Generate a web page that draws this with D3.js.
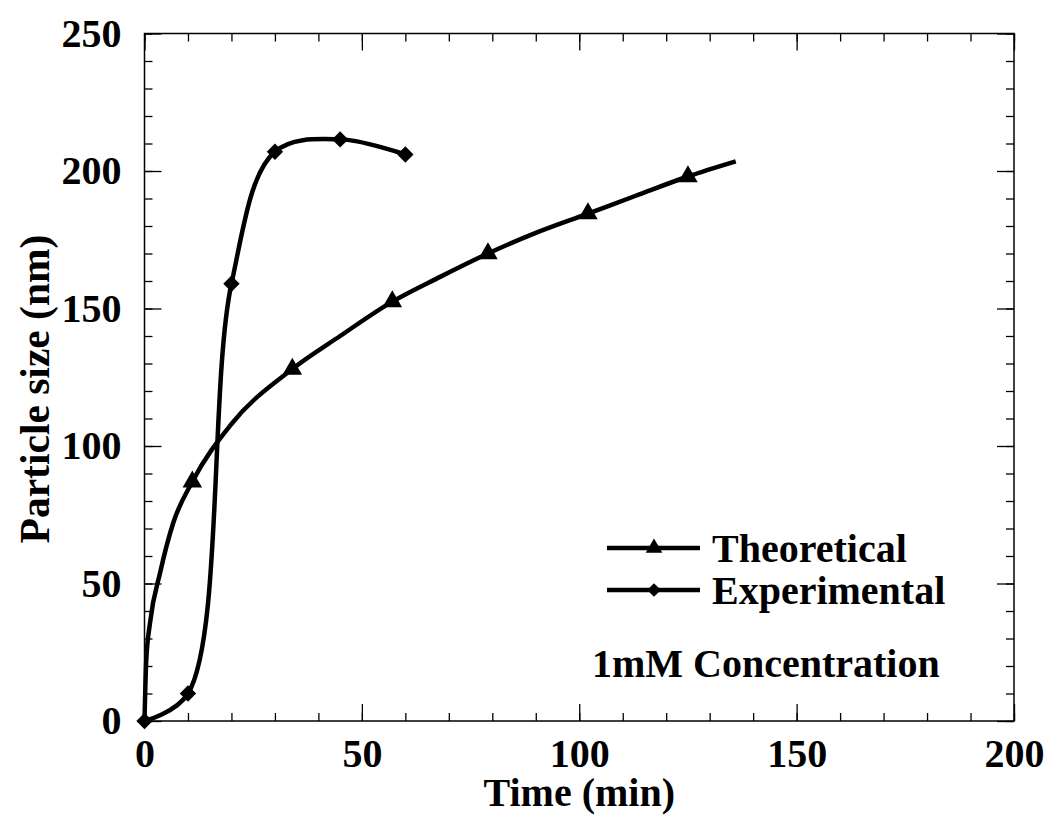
<!DOCTYPE html>
<html>
<head>
<meta charset="utf-8">
<script src="https://cdn.jsdelivr.net/npm/d3@7"></script>
<style>
  body { margin: 0; background: #fff; }
  text { font-family: "Liberation Serif", "Times New Roman", serif; font-weight: bold; }
</style>
</head>
<body>
<div id="chart"></div>
<script>
// values
var theoLine = [[0,0],[0.4,22],[1.3,36],[3.6,54],[6.6,72],[11,87],[20,108],[34,128],[45,140],[57,152.5],[68,161.5],[79,170],[90,177.5],[102,184.5],[113,191],[125,198],[136,203.5]];
var theoMarks = [[11,87],[34,128],[57,152.5],[79,170],[102,184.5],[125,198]];
var expPoints = [[0,0],[10,10],[20,159],[30,207],[45,211.5],[60,206]];
var xTicks = [0,50,100,150,200];
var yTicks = [0,50,100,150,200,250];

var svgWidth = 1048, svgHeight = 819;
var margin = { top: 33.5, right: 34, bottom: 98, left: 144.5 };
var width = svgWidth - margin.left - margin.right;
var height = svgHeight - margin.top - margin.bottom;

var svg = d3.select("#chart").append("svg")
  .attr("width", svgWidth)
  .attr("height", svgHeight);

var g = svg.append("g")
  .attr("transform", "translate(" + margin.left + "," + margin.top + ")");

var x = d3.scaleLinear().domain([0, 200]).range([0, width]);
var y = d3.scaleLinear().domain([0, 250]).range([height, 0]);

var minorX = d3.range(0, 201, 10), minorY = d3.range(0, 251, 10);

function styleAxis(sel) {
  sel.select(".domain").remove();
  sel.selectAll("line").attr("stroke", "#000").attr("stroke-width", 1.3);
  sel.selectAll("text").attr("font-size", 40).attr("fill", "#000")
    .style("font-family", '"Liberation Serif", serif').style("font-weight", "bold");
}

// minor ticks, all four sides
g.append("g").attr("transform", "translate(0," + height + ")")
  .call(d3.axisBottom(x).tickValues(minorX).tickFormat("").tickSizeInner(-8).tickSizeOuter(0)).call(styleAxis);
g.append("g")
  .call(d3.axisTop(x).tickValues(minorX).tickFormat("").tickSizeInner(-8).tickSizeOuter(0)).call(styleAxis);
g.append("g")
  .call(d3.axisLeft(y).tickValues(minorY).tickFormat("").tickSizeInner(-8).tickSizeOuter(0)).call(styleAxis);
g.append("g").attr("transform", "translate(" + width + ",0)")
  .call(d3.axisRight(y).tickValues(minorY).tickFormat("").tickSizeInner(-8).tickSizeOuter(0)).call(styleAxis);

// major ticks
g.append("g").attr("transform", "translate(0," + height + ")")
  .call(d3.axisBottom(x).tickValues(xTicks).tickFormat(d3.format("d")).tickSizeInner(-17).tickSizeOuter(0).tickPadding(18)).call(styleAxis);
g.append("g")
  .call(d3.axisTop(x).tickValues(xTicks).tickFormat("").tickSizeInner(-17).tickSizeOuter(0)).call(styleAxis);
g.append("g")
  .call(d3.axisLeft(y).tickValues(yTicks).tickFormat(d3.format("d")).tickSizeInner(-17).tickSizeOuter(0).tickPadding(23)).call(styleAxis);
g.append("g").attr("transform", "translate(" + width + ",0)")
  .call(d3.axisRight(y).tickValues(yTicks).tickFormat("").tickSizeInner(-17).tickSizeOuter(0)).call(styleAxis);

// frame
g.append("rect")
  .attr("width", width).attr("height", height)
  .attr("fill", "none").attr("stroke", "#000").attr("stroke-width", 1.5);

var line = d3.line()
  .x(function(d) { return x(d[0]); })
  .y(function(d) { return y(d[1]); });

g.append("path")
  .datum(theoLine)
  .attr("fill", "none").attr("stroke", "#000").attr("stroke-width", 4.5)
  .attr("stroke-linejoin", "round")
  .attr("d", line.curve(d3.curveMonotoneX));

g.append("path")
  .datum(expPoints)
  .attr("fill", "none").attr("stroke", "#000").attr("stroke-width", 4.5)
  .attr("stroke-linejoin", "round")
  .attr("d", line.curve(d3.curveCatmullRom.alpha(0.5)));

var tri = d3.symbol().type(d3.symbolTriangle).size(165);
var dia = d3.symbol().type(d3.symbolDiamond2).size(170);

g.selectAll(".tri").data(theoMarks).enter().append("path")
  .attr("class", "tri")
  .attr("transform", function(d) { return "translate(" + x(d[0]) + "," + y(d[1]) + ")"; })
  .attr("d", tri).attr("fill", "#000");

g.selectAll(".dia").data(expPoints).enter().append("path")
  .attr("class", "dia")
  .attr("transform", function(d) { return "translate(" + x(d[0]) + "," + y(d[1]) + ")"; })
  .attr("d", dia).attr("fill", "#000");

// axis titles
svg.append("text")
  .attr("x", margin.left + width / 2).attr("y", 806)
  .attr("text-anchor", "middle").attr("font-size", 40)
  .text("Time (min)");

svg.append("text")
  .attr("transform", "translate(49,389) rotate(-90)")
  .attr("text-anchor", "middle").attr("font-size", 41.5)
  .text("Particle size (nm)");

// legend
var legend = [
  { name: "Theoretical", sym: tri, y: 548 },
  { name: "Experimental", sym: dia, y: 590 }
];
var lg = svg.append("g");
legend.forEach(function(l) {
  lg.append("line").attr("x1", 607).attr("x2", 700).attr("y1", l.y).attr("y2", l.y)
    .attr("stroke", "#000").attr("stroke-width", 4.5);
  lg.append("path").attr("transform", "translate(654," + l.y + ")")
    .attr("d", l.sym.size(120)).attr("fill", "#000");
  lg.append("text").attr("x", 712).attr("y", l.y + 14).attr("font-size", 40).text(l.name);
});

svg.append("text")
  .attr("x", 592).attr("y", 677).attr("font-size", 40)
  .text("1mM Concentration");
</script>
</body>
</html>
